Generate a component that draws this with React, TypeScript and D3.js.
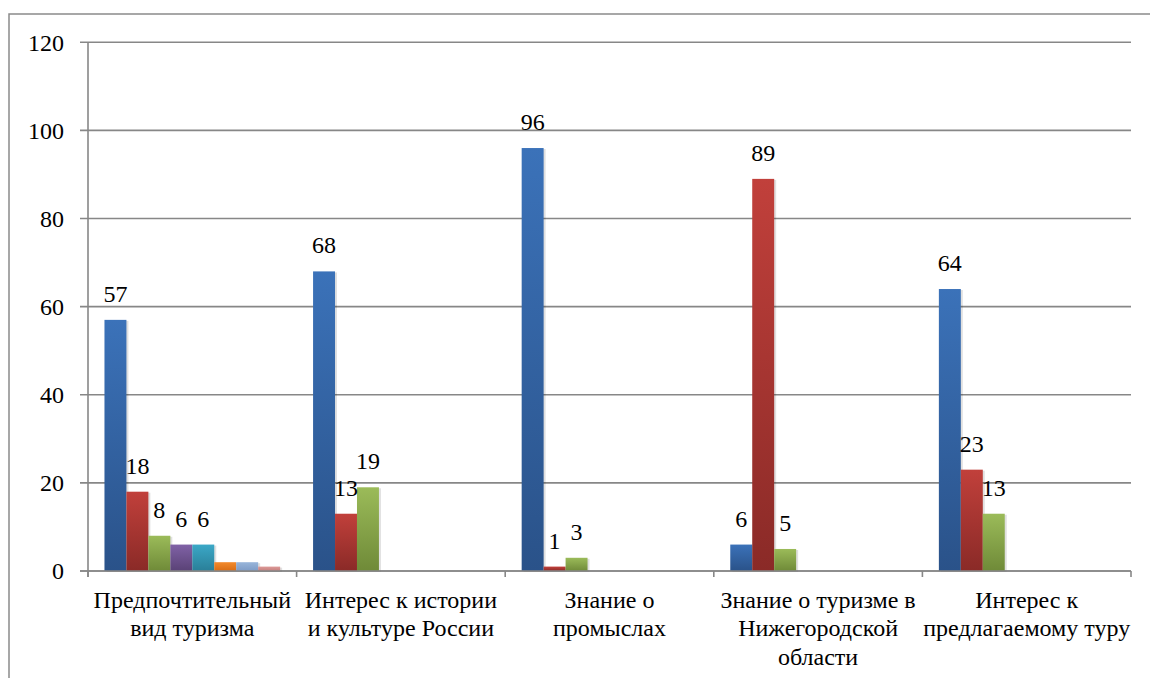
import React from "react";
import * as d3 from "d3";

// Survey categories (x axis), wrapped into lines
const categories: string[][] = [
  ["Предпочтительный", "вид туризма"],
  ["Интерес к истории", "и культуре России"],
  ["Знание о", "промыслах"],
  ["Знание о туризме в", "Нижегородской", "области"],
  ["Интерес к", "предлагаемому туру"],
];

// Answer series: one value per category (null = no answer of that kind)
const series1: (number | null)[] = [57, 68, 96, 6, 64];
const series2: (number | null)[] = [18, 13, 1, 89, 23];
const series3: (number | null)[] = [8, 19, 3, 5, 13];
const series4: (number | null)[] = [6, null, null, null, null];
const series5: (number | null)[] = [6, null, null, null, null];
const series6: (number | null)[] = [2, null, null, null, null];
const series7: (number | null)[] = [2, null, null, null, null];
const series8: (number | null)[] = [1, null, null, null, null];

const allSeries = [series1, series2, series3, series4, series5, series6, series7, series8];
// Series that carry a value label
const labelledSeries = 5;

const yTicks: number[] = [0, 20, 40, 60, 80, 100, 120];

// Office-style gradient colours: [top, bottom]
const seriesColors: [string, string][] = [
  ["#3b72b9", "#2a5289"],
  ["#c1403b", "#8a2a27"],
  ["#9bbb59", "#6f8a38"],
  ["#8062a6", "#5a4276"],
  ["#3ba8c7", "#2a7f98"],
  ["#f38a2c", "#d86c14"],
  ["#98b5da", "#7d9bc6"],
  ["#dd9a98", "#c47e7c"],
];

const W = 1150;
const H = 678;
const left = 88;
const right = 1131;
const top = 42.3;
const bottom = 571;
const gridColor = "#878787";

export default function App() {
  const catIdx = categories.map((_, i) => String(i));
  const x0 = d3.scaleBand<string>().domain(catIdx).range([left, right]).padding(0);
  const x1 = d3
    .scaleBand<string>()
    .domain(allSeries.map((_, i) => String(i)))
    .range([0, x0.bandwidth()])
    .paddingInner(0)
    .paddingOuter(0.75);
  const y = d3.scaleLinear().domain([0, 120]).range([bottom, top]);

  const boundaries = d3.range(categories.length + 1).map((i) => left + i * x0.step());

  return (
    <svg width={W} height={H} style={{ position: "absolute", left: 0, top: 0, background: "#fff" }}>
      <style>{`.lbl { font-family: "Liberation Serif", serif; font-size: 24px; fill: #000; }`}</style>
      <defs>
        {seriesColors.map(([a, b], i) => (
          <linearGradient key={i} id={`g${i}`} x1="0" y1="0" x2="0" y2="1">
            <stop offset="0" stopColor={a} />
            <stop offset="1" stopColor={b} />
          </linearGradient>
        ))}
      </defs>

      {/* chart frame */}
      <rect x={9} y={14} width={1300} height={800} fill="none" stroke="#8a8a8a" strokeWidth={1.5} />

      {/* horizontal gridlines */}
      {yTicks.map((t) => (
        <line key={t} x1={80} x2={right} y1={y(t)} y2={y(t)} stroke={gridColor} strokeWidth={1.6} />
      ))}

      {/* bar shadows, then bars */}
      {categories.map((_, ci) =>
        allSeries.map((s, si) => {
          const v = s[ci];
          if (v == null) return null;
          const bx = (x0(String(ci)) as number) + (x1(String(si)) as number);
          return (
            <rect
              key={`s${ci}-${si}`}
              x={bx + 2}
              y={y(v) + 1}
              width={x1.bandwidth()}
              height={y(0) - y(v)}
              fill="#000"
              opacity={0.12}
            />
          );
        })
      )}
      {categories.map((_, ci) =>
        allSeries.map((s, si) => {
          const v = s[ci];
          if (v == null) return null;
          const bx = (x0(String(ci)) as number) + (x1(String(si)) as number);
          return (
            <rect
              key={`${ci}-${si}`}
              x={bx}
              y={y(v)}
              width={x1.bandwidth()}
              height={y(0) - y(v)}
              fill={`url(#g${si})`}
            />
          );
        })
      )}

      {/* axes */}
      <line x1={left} x2={left} y1={top} y2={bottom + 6} stroke={gridColor} strokeWidth={1.6} />
      <line x1={80} x2={right} y1={bottom} y2={bottom} stroke={gridColor} strokeWidth={1.6} />
      {boundaries.map((bx, i) => (
        <line key={i} x1={bx} x2={bx} y1={bottom} y2={bottom + 6} stroke={gridColor} strokeWidth={1.6} />
      ))}

      {/* y tick labels */}
      {yTicks.map((t) => (
        <text key={t} className="lbl" x={64} y={y(t)} dy="0.35em" textAnchor="end">
          {t}
        </text>
      ))}

      {/* value labels */}
      {categories.map((_, ci) =>
        allSeries.slice(0, labelledSeries).map((s, si) => {
          const v = s[ci];
          if (v == null) return null;
          const cx = (x0(String(ci)) as number) + (x1(String(si)) as number) + x1.bandwidth() / 2;
          return (
            <text key={`l${ci}-${si}`} className="lbl" x={cx} y={y(v) - 18} textAnchor="middle">
              {v}
            </text>
          );
        })
      )}

      {/* category labels */}
      {categories.map((lines, ci) => {
        const cx = (x0(String(ci)) as number) + x0.bandwidth() / 2;
        return (
          <text key={`c${ci}`} className="lbl" textAnchor="middle">
            {lines.map((ln, li) => (
              <tspan key={li} x={cx} y={608 + li * 28.3}>
                {ln}
              </tspan>
            ))}
          </text>
        );
      })}
    </svg>
  );
}
